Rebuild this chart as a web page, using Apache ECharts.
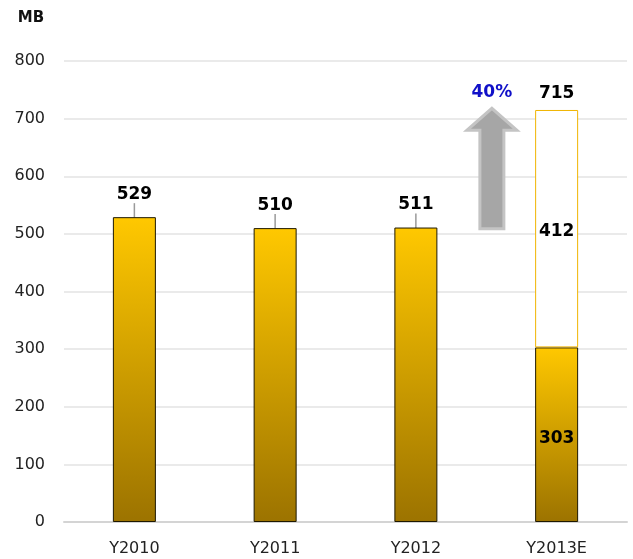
<!DOCTYPE html>
<html>
<head>
<meta charset="utf-8">
<script src="https://cdn.jsdelivr.net/npm/echarts@6/dist/echarts.min.js"></script>
<style>
  html, body { margin: 0; padding: 0; background: #fff; }
  #main { width: 633px; height: 559px; }
</style>
</head>
<body>
<div id="main"></div>
<script>
var categories = ['Y2010', 'Y2011', 'Y2012', 'Y2013E'];
var baseValues = [529, 510, 511, 303];
var extraValues = [null, null, null, 412];
var totalValues = [null, null, null, 715];
var growthText = '40%';
// arrow spans from this value up to that one, between Y2012 and Y2013E
var arrowFrom = 509;
var arrowTo = 718;

var font = 'DejaVu Sans, Verdana, sans-serif';
var chart = echarts.init(document.getElementById('main'));

var gold = new echarts.graphic.LinearGradient(0, 0, 0, 1, [
  { offset: 0, color: '#ffc800' },
  { offset: 1, color: '#9c7300' }
]);

chart.setOption({
  animation: false,
  grid: { left: 64, right: 6, top: 61, bottom: 37 },
  xAxis: {
    type: 'category',
    data: categories,
    axisTick: { show: false },
    axisLine: { lineStyle: { color: '#d4d4d4', width: 2 } },
    axisLabel: { color: '#222', fontFamily: font, fontSize: 16, margin: 19 }
  },
  yAxis: {
    type: 'value',
    min: 0, max: 800, interval: 100,
    name: 'MB',
    nameLocation: 'end',
    nameGap: 35,
    nameTextStyle: { color: '#111', fontFamily: font, fontSize: 15, fontWeight: 'bold', align: 'center', padding: [0, 0, 0, -66] },
    axisLine: { show: false },
    axisTick: { show: false },
    axisLabel: { color: '#222', fontFamily: font, fontSize: 16, margin: 19 },
    splitLine: { lineStyle: { color: '#e3e3e3', width: 1.5 } }
  },
  series: [
    {
      type: 'bar',
      stack: 'a',
      barWidth: 43,
      data: baseValues.map(function (v, i) {
        var inside = extraValues[i] != null;
        return {
          value: v,
          label: inside
            ? { position: 'inside' }
            : { position: 'top', distance: 5 },
          labelLine: { show: !inside }
        };
      }),
      itemStyle: { color: gold, borderColor: '#1e1800', borderWidth: 1 },
      label: { show: true, color: '#000', fontFamily: font, fontSize: 17, fontWeight: 'bold' },
      labelLayout: function (p) {
        return extraValues[p.dataIndex] == null ? { dy: -9 } : { dy: 4 };
      },
      labelLine: { show: true, lineStyle: { color: '#9a9a9a', width: 1.5 } }
    },
    {
      type: 'bar',
      stack: 'a',
      barWidth: 43,
      data: extraValues,
      itemStyle: { color: '#fff', borderColor: '#f0b400', borderWidth: 1 },
      label: { show: true, position: 'inside', offset: [0, 3], color: '#000', fontFamily: font, fontSize: 17, fontWeight: 'bold' }
    },
    {
      type: 'bar',
      stack: 'a',
      barWidth: 43,
      data: totalValues.map(function (v) { return v == null ? null : 0; }),
      itemStyle: { color: 'transparent' },
      label: {
        show: true, position: 'top', distance: 8,
        color: '#000', fontFamily: font, fontSize: 17, fontWeight: 'bold',
        formatter: function (p) { return totalValues[p.dataIndex]; }
      }
    }
  ]
});

// growth arrow between the last two categories
var pLow = chart.convertToPixel({ gridIndex: 0 }, [2, arrowFrom]);
var pHigh = chart.convertToPixel({ gridIndex: 0 }, [3, arrowTo]);
var cx = pLow[0] + (pHigh[0] - pLow[0]) * 0.54;
var yb = pLow[1], yt = pHigh[1];
var bw = 12, hw = 25, hh = 22;
chart.setOption({
  graphic: [
    {
      type: 'polygon',
      shape: {
        points: [
          [cx - bw, yb], [cx - bw, yt + hh], [cx - hw, yt + hh], [cx, yt],
          [cx + hw, yt + hh], [cx + bw, yt + hh], [cx + bw, yb]
        ]
      },
      style: { fill: '#a6a6a6', stroke: '#c4c4c4', lineWidth: 3 }
    },
    {
      type: 'text',
      x: cx, y: yt - 16,
      style: {
        text: growthText, fill: '#1010c8', font: 'bold 17px ' + font,
        align: 'center', verticalAlign: 'middle'
      }
    }
  ]
});
</script>
</body>
</html>
